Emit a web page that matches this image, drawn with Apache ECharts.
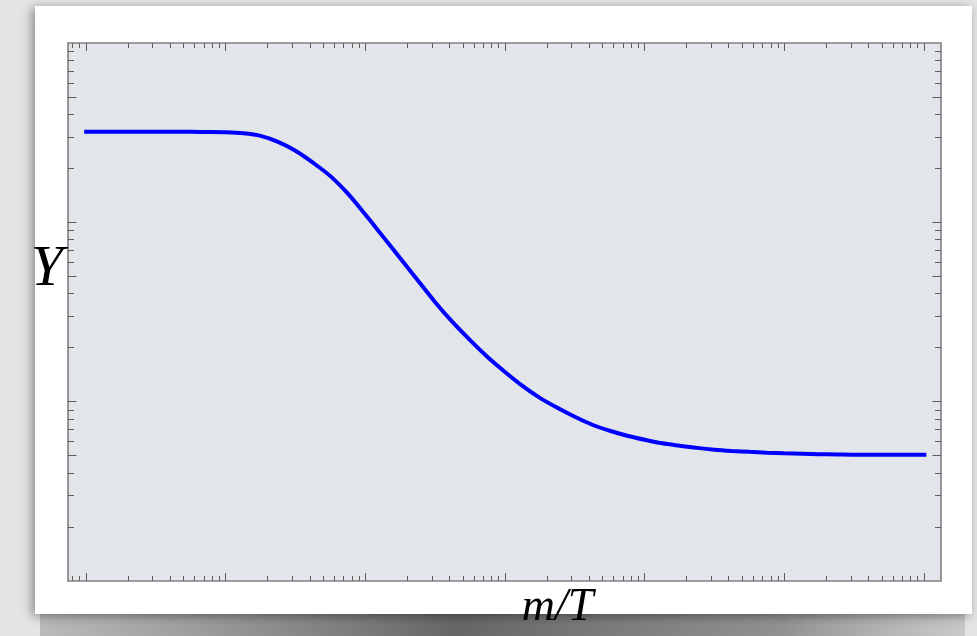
<!DOCTYPE html>
<html>
<head>
<meta charset="utf-8">
<script src="https://cdn.jsdelivr.net/npm/echarts@6/dist/echarts.min.js"></script>
<style>
html,body{margin:0;padding:0;background:#e3e4e6;}
#c{width:977px;height:636px;}
</style>
</head>
<body>
<div id="c"></div>
<script>
// ---- data ----
const xValues = [0.0097, 0.01334, 0.01778, 0.02371, 0.03162, 0.04217, 0.05623, 0.07499,
                 0.1, 0.1334, 0.1778, 0.2371, 0.3162, 0.4217, 0.5623, 0.7499,
                 1, 1.334, 1.778, 2.371, 3.162, 4.217, 5.623, 7.499,
                 10, 13.34, 17.78, 23.71, 31.62, 42.17, 56.23, 74.99,
                 100, 133.4, 177.8, 237.1, 316.2, 421.7, 562.3, 749.9,
                 1000, 1334, 1778, 2371, 3162, 4217, 5623, 7499, 10400];
const yValues = [63.9, 63.9, 63.9, 63.9, 63.9, 63.9, 63.9, 63.75,
                 63.5, 62.7, 60.7, 56.2, 50.1, 43.0, 36.2, 28.9,
                 22.1, 16.7, 12.6, 9.50, 7.17, 5.55, 4.41, 3.55,
                 2.93, 2.45, 2.10, 1.848, 1.647, 1.487, 1.377, 1.292,
                 1.227, 1.173, 1.137, 1.105, 1.080, 1.063, 1.050, 1.039,
                 1.031, 1.025, 1.019, 1.016, 1.013, 1.013, 1.013, 1.013, 1.013];
const xMajorTicks = [0.01, 0.1, 1, 10, 100, 1000, 10000];
const xMinorTicks = [0.008, 0.009,
  0.02,0.03,0.04,0.05,0.06,0.07,0.08,0.09,
  0.2,0.3,0.4,0.5,0.6,0.7,0.8,0.9,
  2,3,4,5,6,7,8,9,
  20,30,40,50,60,70,80,90,
  200,300,400,500,600,700,800,900,
  2000,3000,4000,5000,6000,7000,8000,9000];
const yMajorTicks = [1, 2, 10, 20, 100];
const yMinorTicks = [0.4,0.6,0.8, 1.2,1.4,1.6,1.8, 4,6,8, 12,14,16,18, 40,60,80, 120,140,160,180];
const xRange = [0.00743, 13240];
const yRange = [0.2, 200];
const xTitle = 'm/T';
const yTitle = 'Y';

const chart = echarts.init(document.getElementById('c'), null, {renderer:'canvas'});
const pts = xValues.map((x,i)=>[x, yValues[i]]);

function xAx(pos, ticks, len, extra){
  return Object.assign({
    type:'log', logBase:10, min:xRange[0], max:xRange[1], position:pos,
    axisLine:{show:false}, splitLine:{show:false}, axisLabel:{show:false},
    axisTick:{show:true, inside:true, length:len, customValues:ticks, lineStyle:{color:'#5e5e5e', width:1}}
  }, extra||{});
}
function yAx(pos, ticks, len, extra){
  return Object.assign({
    type:'log', logBase:10, min:yRange[0], max:yRange[1], position:pos,
    axisLine:{show:false}, splitLine:{show:false}, axisLabel:{show:false},
    axisTick:{show:true, inside:true, length:len, customValues:ticks, lineStyle:{color:'#5e5e5e', width:1}}
  }, extra||{});
}

const serif = '"Liberation Serif","Times New Roman",serif';

chart.setOption({
  backgroundColor:'#e3e4e6',
  animation:false,
  graphic:[
    {type:'rect', z:-20, shape:{x:40, y:606, width:925, height:30},
     style:{fill:new echarts.graphic.LinearGradient(0,0,1,0,[
       {offset:0, color:'rgba(90,90,90,0.3)'},
       {offset:0.45, color:'rgba(70,70,70,0.8)'},
       {offset:0.8, color:'rgba(90,90,90,0.6)'},
       {offset:1, color:'rgba(120,120,120,0.25)'}])}},
    {type:'rect', z:-15, shape:{x:35, y:6, width:937, height:608},
     style:{fill:'#ffffff', shadowBlur:10, shadowColor:'rgba(0,0,0,0.4)', shadowOffsetX:-3, shadowOffsetY:2}}
  ],
  grid:{left:68, top:43, right:36, bottom:55, show:true, backgroundColor:'#e2e5e9',
        borderColor:'#808080', borderWidth:1.6, containLabel:false, outerBoundsMode:'none'},
  xAxis:[
    xAx('bottom', xMinorTicks, 5, {
      name:xTitle, nameLocation:'middle', nameGap:4,
      nameTextStyle:{fontFamily:serif, fontStyle:'italic', fontSize:46, color:'#000', padding:[0,0,0,106]}
    }),
    xAx('bottom', xMajorTicks, 8),
    xAx('top', xMinorTicks, 5),
    xAx('top', xMajorTicks, 8)
  ],
  yAxis:[
    yAx('left', yMinorTicks, 6, {
      name:yTitle, nameLocation:'middle', nameRotate:0, nameGap:5,
      nameTextStyle:{fontFamily:serif, fontStyle:'italic', fontSize:58, color:'#000', verticalAlign:'bottom', lineHeight:84}
    }),
    yAx('left', yMajorTicks, 8.5),
    yAx('right', yMinorTicks, 6),
    yAx('right', yMajorTicks, 8.5)
  ],
  series:[{
    type:'line', data:pts, xAxisIndex:0, yAxisIndex:0, smooth:0.3, showSymbol:false, symbol:'none',
    lineStyle:{color:'#0000ff', width:4}, clip:true
  }]
});
</script>
</body>
</html>
